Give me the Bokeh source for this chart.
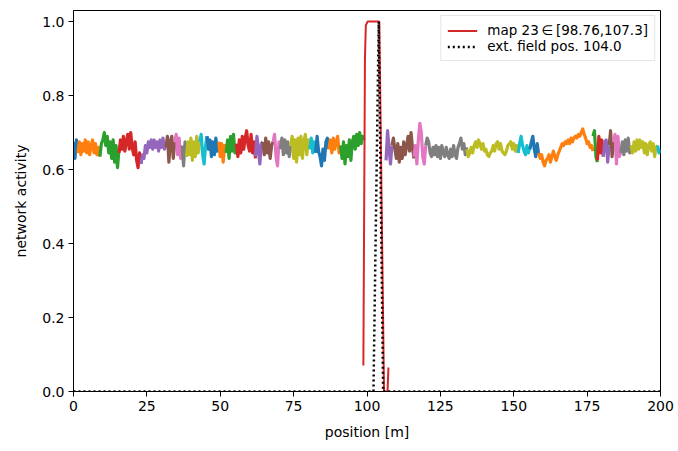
import numpy as np
from bokeh.plotting import figure
from bokeh.models import Range1d, FixedTicker, PrintfTickFormatter, Legend, LegendItem
from bokeh.embed import file_html
from bokeh.resources import INLINE

# ---------------- data ----------------
STEP = 0.5
# start position (m) of the visible part of each map's activity trace
map_start = [0.0, 1.5, 9.0, 15.5, 23.0, 31.5, 34.5, 37.0, 38.5, 43.0,
             45.5, 49.5, 52.0, 55.5, 62.0, 64.5, 68.0, 70.5, 74.0, 80.5,
             82.5, 87.0, 91.0, None,
             106.5, 108.5, 116.0, 120.0, 134.0, 151.5, 155.5, 158.5, 177.0, 178.5,
             180.5, 182.5, 184.0, 186.5, 190.0, 199.0]
map_vals = [
    [0.675, 0.63, 0.68, 0.645],
    [0.645, 0.675, 0.64, 0.67, 0.65, 0.68, 0.645, 0.675, 0.64, 0.665, 0.68, 0.645, 0.67, 0.64, 0.66, 0.635],
    [0.635, 0.67, 0.68, 0.70, 0.665, 0.69, 0.645, 0.675, 0.63, 0.68, 0.62, 0.665, 0.605, 0.655],
    [0.645, 0.68, 0.655, 0.69, 0.65, 0.675, 0.695, 0.655, 0.70, 0.66, 0.64, 0.675, 0.625, 0.605, 0.645, 0.615],
    [0.615, 0.64, 0.63, 0.665, 0.645, 0.675, 0.66, 0.68, 0.655, 0.68, 0.66, 0.675, 0.65, 0.68, 0.66, 0.685, 0.655, 0.67],
    [0.66, 0.69, 0.62, 0.675, 0.69, 0.63, 0.675],
    [0.675, 0.695, 0.64, 0.685, 0.63, 0.665],
    [0.665, 0.61, 0.675, 0.635],
    [0.635, 0.675, 0.64, 0.685, 0.625, 0.675, 0.635, 0.69, 0.645, 0.675],
    [0.675, 0.695, 0.64, 0.615, 0.665, 0.69],
    [0.69, 0.655, 0.68, 0.635, 0.675, 0.64, 0.685, 0.65, 0.675],
    [0.675, 0.635, 0.67, 0.62, 0.665, 0.645],
    [0.645, 0.68, 0.63, 0.69, 0.65, 0.695, 0.645, 0.67],
    [0.67, 0.635, 0.68, 0.645, 0.69, 0.655, 0.685, 0.705, 0.665, 0.65, 0.695, 0.645, 0.675, 0.63],
    [0.635, 0.69, 0.655, 0.615, 0.67, 0.675],
    [0.675, 0.64, 0.685, 0.645, 0.675, 0.63, 0.665, 0.675],
    [0.675, 0.695, 0.635, 0.61, 0.675, 0.655],
    [0.655, 0.685, 0.64, 0.68, 0.645, 0.675, 0.635, 0.665],
    [0.665, 0.69, 0.63, 0.68, 0.62, 0.685, 0.64, 0.69, 0.63, 0.675, 0.695, 0.64, 0.68, 0.655],
    [0.655, 0.685, 0.645, 0.675, 0.645],
    [0.645, 0.69, 0.65, 0.635, 0.61, 0.655, 0.625, 0.675, 0.685, 0.655],
    [0.655, 0.68, 0.645, 0.685, 0.655, 0.675, 0.69, 0.645, 0.665],
    [0.665, 0.63, 0.675, 0.615, 0.665, 0.635, 0.68, 0.625, 0.675, 0.69, 0.655, 0.695, 0.665, 0.70, 0.67, 0.69, 0.68],
    None,
    [0.625, 0.705, 0.66, 0.615, 0.665],
    [0.665, 0.685, 0.655, 0.63, 0.67, 0.62, 0.66, 0.63, 0.675, 0.64, 0.665, 0.69, 0.65, 0.70, 0.66, 0.63],
    [0.635, 0.665, 0.615, 0.68, 0.725, 0.70, 0.635, 0.615, 0.665],
    [0.665, 0.685, 0.675, 0.645, 0.635, 0.66, 0.64, 0.665, 0.635, 0.66, 0.63, 0.665, 0.645, 0.635, 0.66,
     0.64, 0.63, 0.655, 0.635, 0.665, 0.64, 0.63, 0.66, 0.67, 0.685, 0.655, 0.67, 0.64, 0.66],
    [0.655, 0.635, 0.645, 0.66, 0.645, 0.665, 0.675, 0.66, 0.68, 0.67, 0.655, 0.67, 0.65, 0.655, 0.64,
     0.635, 0.645, 0.65, 0.665, 0.65, 0.67, 0.675, 0.655, 0.67, 0.65, 0.645, 0.64, 0.65, 0.665, 0.67,
     0.675, 0.655, 0.67, 0.65, 0.665, 0.645],
    [0.645, 0.67, 0.69, 0.665, 0.65, 0.64, 0.665, 0.645, 0.66],
    [0.655, 0.675, 0.69, 0.655, 0.635, 0.67, 0.64],
    [0.645, 0.63, 0.64, 0.62, 0.61, 0.625, 0.63, 0.64, 0.62, 0.635, 0.65, 0.635, 0.625, 0.64,
     0.65, 0.66, 0.67, 0.665, 0.675, 0.67, 0.68, 0.67, 0.685, 0.675, 0.685, 0.69, 0.685, 0.695,
     0.69, 0.70, 0.71, 0.695, 0.685, 0.67, 0.675, 0.66, 0.665, 0.65],
    [0.69, 0.705, 0.635, 0.62],
    [0.625, 0.69, 0.645, 0.68, 0.635],
    [0.635, 0.675, 0.68, 0.62, 0.665],
    [0.665, 0.705, 0.635, 0.675],
    [0.675, 0.695, 0.615, 0.69, 0.635, 0.65],
    [0.645, 0.675, 0.64, 0.68, 0.65, 0.685, 0.645, 0.665],
    [0.665, 0.645, 0.675, 0.65, 0.68, 0.655, 0.68, 0.66, 0.675, 0.645, 0.67, 0.64, 0.665, 0.675,
     0.65, 0.67, 0.635, 0.66, 0.665],
    [0.665, 0.645, 0.655],
]

# map 23 (highlighted) and the external field
peak_pos = [98.76, 99.3, 99.6, 100.2, 104.2, 105.8, 107.0, 107.3]
peak_act = [0.07, 0.90, 0.99, 1.0, 1.0, 0.0, 0.0, 0.065]
field_pos = [0.0, 102.2, 104.0, 105.5, 200.0]
field_act = [0.0, 0.0, 1.0, 0.0, 0.0]

x_ticks = [0, 25, 50, 75, 100, 125, 150, 175, 200]
y_ticks = [0.0, 0.2, 0.4, 0.6, 0.8, 1.0]

tab10 = ["#1f77b4", "#ff7f0e", "#2ca02c", "#d62728", "#9467bd",
         "#8c564b", "#e377c2", "#7f7f7f", "#bcbd22", "#17becf"]

FONT = "DejaVu Sans"

p = figure(width=678, height=451, output_backend="svg", toolbar_location=None,
           x_range=Range1d(0, 200), y_range=Range1d(0, 1.03),
           min_border_left=73, min_border_right=18, min_border_top=10, min_border_bottom=60)

for i, (s, vals) in enumerate(zip(map_start, map_vals)):
    if vals is None:
        continue
    xs = s + STEP * np.arange(len(vals))
    p.line(xs, vals, line_color=tab10[i % 10], line_width=3.2, line_join="round")

r_peak = p.line(peak_pos, peak_act, line_color="#d62728", line_width=2)
r_field = p.line(field_pos, field_act, line_color="black", line_width=2.5, line_dash="2 3")

legend = Legend(items=[
    LegendItem(label="map 23\u2009\u2208\u2009[98.76,107.3]", renderers=[r_peak]),
    LegendItem(label="ext. field pos. 104.0", renderers=[r_field]),
], location="top_right")
legend.margin = 5
legend.padding = 6
legend.spacing = 0
legend.label_height = 15
legend.glyph_height = 15
legend.glyph_width = 30
legend.label_standoff = 10
legend.label_text_font = FONT
legend.label_text_font_size = "13.5px"
legend.label_text_color = "black"
legend.border_line_color = "#cccccc"
legend.border_line_width = 1
legend.background_fill_alpha = 0.8
p.add_layout(legend)

p.grid.visible = False
p.outline_line_color = "black"
p.outline_line_width = 1

for ax in (p.xaxis[0], p.yaxis[0]):
    ax.major_tick_out = 5
    ax.major_tick_in = 0
    ax.minor_tick_line_color = None
    ax.major_label_text_font = FONT
    ax.major_label_text_font_size = "14px"
    ax.major_label_text_color = "black"
    ax.axis_label_text_font = FONT
    ax.axis_label_text_font_size = "14px"
    ax.axis_label_text_font_style = "normal"
    ax.axis_label_text_color = "black"
    ax.axis_line_color = "black"
    ax.major_tick_line_color = "black"
    ax.major_label_standoff = 4

p.xaxis.ticker = FixedTicker(ticks=x_ticks)
p.yaxis.ticker = FixedTicker(ticks=y_ticks)
p.yaxis.formatter = PrintfTickFormatter(format="%.1f")
p.xaxis.axis_label = "position [m]"
p.yaxis.axis_label = "network activity"
p.xaxis.axis_label_standoff = 10
p.yaxis.axis_label_standoff = 10

open("out.html", "w").write(file_html(p, INLINE))
